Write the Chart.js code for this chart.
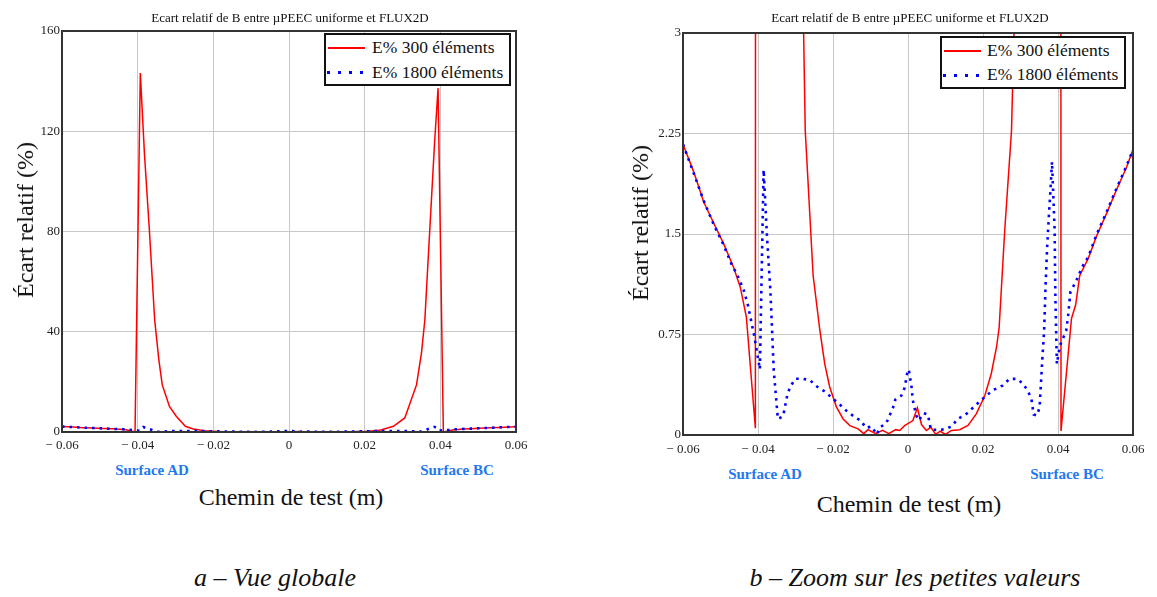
<!DOCTYPE html>
<html>
<head>
<meta charset="utf-8">
<script src="https://cdn.jsdelivr.net/npm/chart.js@4.4.0/dist/chart.umd.min.js"></script>
<style>
  body{margin:0;width:1157px;height:597px;background:#fff;position:relative;overflow:hidden;font-family:"Liberation Serif","DejaVu Serif",serif;color:#111;}
  .abs{position:absolute;white-space:nowrap;line-height:1;}
  canvas{position:absolute;top:0;}
  .title{font-size:13px;transform:translate(-50%,-50%);}
  .ytitle{font-size:24px;transform:translate(-50%,-50%) rotate(-90deg);}
  .xtitle{font-size:24px;transform:translate(-50%,-50%);}
  .surf{font-size:15px;font-weight:bold;color:#2378f0;transform:translate(-50%,-50%);}
  .cap{font-size:26px;font-style:italic;transform:translate(-50%,-50%);}
  .legend{position:absolute;border:2px solid #111;background:#fff;box-sizing:border-box;}
  .legend .txt{position:absolute;font-size:17.5px;white-space:nowrap;line-height:1;transform:translateY(-50%);}
  .legend .red{position:absolute;height:2px;background:#ff0000;}
  .legend .dots{position:absolute;height:3px;background:repeating-linear-gradient(to right,#0000ff 0 3px,transparent 3px 11px);}
</style>
</head>
<body>
<canvas id="c1" width="560" height="460" style="left:0px"></canvas>
<canvas id="c2" width="557" height="460" style="left:600px"></canvas>

<div class="abs title" style="left:290px;top:17px">Ecart relatif de B entre µPEEC uniforme et FLUX2D</div>
<div class="abs title" style="left:910px;top:17px">Ecart relatif de B entre µPEEC uniforme et FLUX2D</div>

<div class="abs ytitle" style="left:25px;top:220px">Écart relatif (%)</div>
<div class="abs ytitle" style="left:640px;top:223px">Écart relatif (%)</div>

<div class="abs surf" style="left:152px;top:470px">Surface AD</div>
<div class="abs surf" style="left:457px;top:470px">Surface BC</div>
<div class="abs surf" style="left:765px;top:474px">Surface AD</div>
<div class="abs surf" style="left:1067px;top:474px">Surface BC</div>

<div class="abs xtitle" style="left:291px;top:497px">Chemin de test (m)</div>
<div class="abs xtitle" style="left:909px;top:504px">Chemin de test (m)</div>

<div class="abs cap" style="left:275px;top:578px">a – Vue globale</div>
<div class="abs cap" style="left:915px;top:578px">b – Zoom sur les petites valeurs</div>

<div class="legend" style="left:324px;top:33px;width:187px;height:53px">
  <div class="red" style="left:2px;top:12px;width:37px"></div>
  <div class="txt" style="left:46px;top:13px">E% 300 éléments</div>
  <div class="dots" style="left:1px;top:36px;width:36px"></div>
  <div class="txt" style="left:46px;top:38px">E% 1800 éléments</div>
</div>
<div class="legend" style="left:940px;top:36px;width:186px;height:53px">
  <div class="red" style="left:2px;top:12px;width:37px"></div>
  <div class="txt" style="left:45px;top:13px">E% 300 éléments</div>
  <div class="dots" style="left:1px;top:36px;width:36px"></div>
  <div class="txt" style="left:45px;top:37px">E% 1800 éléments</div>
</div>

<script>
// ---- data (x in m, E in %) ----
const x300 = [-0.0600,-0.0571,-0.0545,-0.0518,-0.0492,-0.0465,-0.0447,-0.0431,-0.0407,-0.0393,-0.0382,-0.0369,-0.0355,-0.0344,-0.0335,-0.0316,-0.0298,-0.0274,-0.0253,-0.0235,-0.0222,-0.0209,-0.0191,-0.0173,-0.0155,-0.0133,-0.0118,-0.0107,-0.0086,-0.0068,-0.0051,-0.0033,-0.0022,-0.0009,0.0013,0.0025,0.0036,0.0049,0.0061,0.0074,0.0086,0.0100,0.0116,0.0138,0.0160,0.0182,0.0205,0.0222,0.0236,0.0243,0.0258,0.0276,0.0306,0.0337,0.0350,0.0359,0.0372,0.0385,0.0394,0.0408,0.0436,0.0447,0.0458,0.0481,0.0502,0.0529,0.0556,0.0583,0.0600];
const y300 = [2.17,1.96,1.74,1.58,1.43,1.25,1.10,0.88,0.05,143.2,110.8,80.4,44.6,28.8,18.8,10.2,6.3,2.27,1.19,0.78,0.53,0.36,0.21,0.12,0.07,0.046,0.01,0.04,0.01,0.034,0.01,0.04,0.034,0.07,0.108,0.203,0.078,0.034,0.058,0.004,0.028,0.004,0.034,0.039,0.071,0.158,0.295,0.457,0.655,0.80,1.53,2.27,5.6,18.8,31.4,44.6,80.4,116,137.2,0.03,0.87,0.97,1.19,1.32,1.48,1.65,1.83,2.00,2.13];

const x1800 = [-0.0600,-0.0571,-0.0545,-0.0518,-0.0492,-0.0470,-0.0456,-0.0438,-0.0427,-0.0410,-0.0395,-0.0385,-0.0376,-0.0367,-0.0358,-0.0347,-0.0333,-0.0321,-0.0312,-0.0300,-0.0281,-0.0262,-0.0242,-0.0222,-0.0203,-0.0182,-0.0163,-0.0144,-0.0124,-0.0113,-0.0096,-0.0084,-0.0074,-0.0058,-0.0049,-0.0040,-0.0034,-0.0018,-0.0009,-0.0002,0.0002,0.0009,0.0013,0.0022,0.0029,0.0042,0.0053,0.0061,0.0077,0.0096,0.0116,0.0133,0.0154,0.0173,0.0192,0.0212,0.0231,0.0252,0.0271,0.0291,0.0307,0.0320,0.0329,0.0335,0.0344,0.0351,0.0358,0.0363,0.0367,0.0371,0.0376,0.0380,0.0384,0.0391,0.0393,0.0397,0.0405,0.0413,0.0422,0.0427,0.0433,0.0449,0.0465,0.0481,0.0502,0.0529,0.0556,0.0583,0.0600];
const y1800 = [2.17,1.95,1.75,1.57,1.42,1.27,1.20,1.08,0.97,0.74,0.49,1.98,1.48,1.08,0.48,0.12,0.14,0.31,0.37,0.42,0.42,0.41,0.36,0.325,0.278,0.228,0.178,0.138,0.103,0.054,0.063,0.004,0.058,0.088,0.146,0.203,0.263,0.293,0.352,0.464,0.489,0.369,0.257,0.146,0.108,0.163,0.153,0.039,0.039,0.041,0.063,0.121,0.153,0.203,0.252,0.302,0.34,0.369,0.419,0.419,0.382,0.327,0.27,0.153,0.146,0.207,0.556,0.78,1.128,1.40,1.65,1.83,2.04,1.53,1.03,0.53,0.668,0.718,0.78,0.892,1.066,1.153,1.257,1.33,1.49,1.66,1.84,2.01,2.13];

const xTicks = [-0.06,-0.04,-0.02,0,0.02,0.04,0.06];
const xTickLabels = ['\u2212 0.06','\u2212 0.04','\u2212 0.02','0','0.02','0.04','0.06'];
const yTicksGlobal = [0,40,80,120,160];
const yTickLabelsGlobal = ['0','40','80','120','160'];
const yTicksZoom = [0,0.75,1.5,2.25,3];
const yTickLabelsZoom = ['0','0.75','1.5','2.25','3'];

const frame = {
  id:'frame',
  afterDatasetsDraw(chart){
    const {ctx, chartArea:a} = chart;
    ctx.save();
    ctx.strokeStyle = '#333';
    ctx.lineWidth = 2;
    ctx.strokeRect(a.left, a.top, a.right - a.left, a.bottom - a.top);
    ctx.restore();
  }
};

function makeChart(id, yMax, yTicks, yLabels, geom){
  const tickFont = {family:'"Liberation Serif", serif', size:13};
  new Chart(document.getElementById(id), {
    type:'line',
    data:{
      datasets:[
        {
          label:'E% 1800 éléments',
          data:x1800.map((x,i)=>({x, y:y1800[i]})),
          borderColor:'#0000ff',
          borderWidth:2.6,
          borderDash:[2.6,4.9],
          borderCapStyle:'butt',
          pointRadius:0,
          tension:0,
          fill:false,
          order:0
        },
        {
          label:'E% 300 éléments',
          data:x300.map((x,i)=>({x, y:y300[i]})),
          borderColor:'#ff0000',
          borderWidth:1.5,
          pointRadius:0,
          tension:0,
          fill:false,
          order:1
        }
      ]
    },
    options:{
      responsive:false,
      animation:false,
      events:[],
      layout:{padding:{left:0, top:geom.top, right:geom.right, bottom:0}},
      plugins:{legend:{display:false}, tooltip:{enabled:false}, title:{display:false}},
      scales:{
        x:{
          type:'linear', min:-0.06, max:0.06,
          afterBuildTicks:s=>{ s.ticks = xTicks.map(v=>({value:v})); },
          afterFit:s=>{ s.height = geom.xh; },
          ticks:{callback:(v,i)=>xTickLabels[i], font:tickFont, color:'#222', padding:geom.xpad, maxRotation:0, autoSkip:false},
          grid:{color:'#c8c8c8', lineWidth:1, drawTicks:false},
          border:{display:false}
        },
        y:{
          type:'linear', min:0, max:yMax,
          afterBuildTicks:s=>{ s.ticks = yTicks.map(v=>({value:v})); },
          afterFit:s=>{ s.width = geom.yw; },
          ticks:{callback:(v,i)=>yLabels[i], font:tickFont, color:'#222', padding:2, autoSkip:false},
          grid:{color:'#c8c8c8', lineWidth:1, drawTicks:false},
          border:{display:false}
        }
      }
    },
    plugins:[frame]
  });
}

// left: chart area 62..516 x 31..432 ; right: canvas at 600, area 683..1133 x 33..435
makeChart('c1', 160, yTicksGlobal, yTickLabelsGlobal, {top:31, right:44, yw:62, xh:28, xpad:6});
makeChart('c2', 3, yTicksZoom, yTickLabelsZoom, {top:33, right:24, yw:83, xh:25, xpad:7});
</script>
</body>
</html>
